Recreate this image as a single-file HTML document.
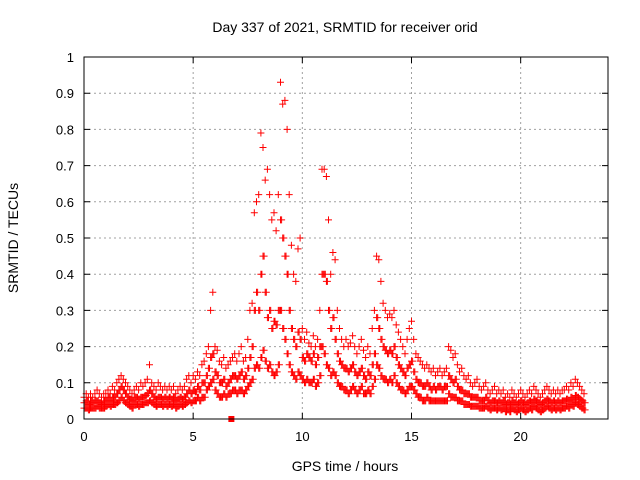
<!DOCTYPE html>
<html><head><meta charset="utf-8"><style>
body{margin:0;background:#fff}
svg{display:block;font-family:"Liberation Sans",sans-serif}
</style></head><body>
<svg id="chart" width="640" height="480" viewBox="0 0 640 480">
<rect width="640" height="480" fill="#fff"/>
<text x="345" y="32" font-size="14" text-anchor="middle">Day 337 of 2021, SRMTID for receiver orid</text>
<text x="345" y="471" font-size="14" text-anchor="middle">GPS time / hours</text>
<text transform="translate(18,238) rotate(-90)" font-size="14" text-anchor="middle">SRMTID / TECUs</text>
<g id="grid"></g><g id="axes"></g><g id="marks"></g>
<rect x="84" y="57" width="524" height="362" fill="none" stroke="#000" stroke-width="1"/>
</svg>
<script>
const xTicks=[0,5,10,15,20];
const yTicks=[0,0.1,0.2,0.3,0.4,0.5,0.6,0.7,0.8,0.9,1];
const yTickLabels=["0","0.1","0.2","0.3","0.4","0.5","0.6","0.7","0.8","0.9","1"];
const tStep=0.1;
const hiVals=[.06,.07,.06,.07,.06,.07,.08,.07,.06,.07,.07,.08,.07,.09,.08,.10,.11,.12,.11,.10,.09,.08,.07,.08,.09,.08,.10,.09,.10,.11,.15,.10,.09,.08,.10,.09,.08,.09,.08,.09,.08,.09,.07,.08,.09,.08,.09,.11,.12,.10,.12,.11,.13,.12,.15,.16,.18,.20,.30,.35,.20,.19,.16,.15,.17,.14,.15,.16,.17,.18,.16,.18,.20,.16,.17,.22,.30,.32,.57,.60,.62,.79,.75,.66,.69,.62,.55,.57,.52,.62,.93,.87,.88,.80,.62,.48,.40,.38,.47,.50,.25,.22,.24,.21,.20,.23,.20,.22,.30,.69,.69,.67,.55,.40,.46,.44,.30,.25,.22,.20,.22,.20,.21,.23,.20,.18,.20,.22,.19,.17,.20,.18,.25,.30,.45,.44,.38,.32,.30,.28,.29,.28,.30,.26,.24,.22,.20,.18,.22,.25,.27,.22,.18,.17,.16,.15,.14,.15,.14,.13,.14,.12,.13,.14,.12,.13,.14,.20,.19,.17,.18,.15,.13,.14,.12,.11,.12,.10,.09,.10,.11,.09,.08,.09,.10,.08,.07,.08,.09,.07,.08,.07,.08,.06,.07,.06,.08,.07,.06,.07,.08,.07,.06,.07,.08,.07,.09,.08,.07,.06,.07,.08,.09,.08,.07,.08,.07,.08,.07,.08,.08,.09,.08,.10,.09,.11,.10,.09,.08,.07];
const midVals=[.045,.05,.04,.05,.045,.05,.05,.045,.04,.05,.05,.06,.05,.06,.06,.07,.08,.09,.08,.07,.06,.055,.05,.06,.06,.055,.06,.06,.065,.07,.08,.07,.06,.055,.06,.06,.055,.06,.055,.06,.055,.06,.05,.055,.06,.055,.06,.07,.08,.07,.08,.075,.09,.08,.10,.10,.12,.14,.17,.18,.13,.12,.10,.10,.11,.09,.10,.11,.12,.12,.11,.12,.13,.11,.12,.14,.17,.20,.30,.35,.30,.40,.45,.35,.28,.30,.25,.27,.26,.30,.55,.50,.45,.40,.30,.25,.22,.20,.24,.22,.17,.16,.18,.17,.16,.18,.15,.17,.20,.40,.40,.38,.30,.25,.28,.22,.18,.16,.15,.14,.14,.13,.14,.15,.13,.12,.13,.14,.12,.11,.13,.12,.15,.18,.28,.25,.22,.20,.19,.18,.19,.18,.20,.17,.15,.14,.13,.12,.14,.15,.16,.13,.11,.10,.10,.09,.09,.10,.09,.08,.09,.08,.09,.09,.08,.09,.09,.12,.11,.10,.11,.09,.08,.08,.07,.07,.07,.06,.06,.06,.06,.05,.05,.05,.06,.05,.045,.05,.05,.045,.05,.045,.05,.04,.045,.04,.05,.045,.04,.045,.05,.045,.04,.045,.05,.045,.055,.05,.045,.04,.045,.05,.055,.05,.045,.05,.045,.05,.045,.05,.05,.055,.05,.06,.055,.065,.06,.055,.05,.045];
const loVals=[.03,.03,.025,.03,.03,.03,.035,.03,.03,.03,.035,.04,.035,.04,.04,.045,.05,.06,.05,.045,.04,.035,.03,.04,.04,.035,.04,.04,.045,.045,.05,.045,.04,.035,.04,.04,.035,.04,.035,.04,.035,.04,.03,.035,.04,.035,.04,.045,.05,.045,.05,.05,.06,.05,.06,.06,.08,.09,.10,.11,.08,.07,.06,.06,.07,.06,.07,.07,.08,.08,.07,.08,.08,.07,.08,.09,.10,.11,.14,.15,.14,.17,.19,.16,.14,.15,.13,.12,.13,.15,.30,.25,.22,.18,.15,.13,.12,.11,.13,.12,.11,.10,.11,.10,.10,.11,.09,.10,.12,.20,.18,.15,.14,.12,.13,.12,.10,.09,.09,.08,.08,.07,.08,.09,.08,.07,.08,.09,.07,.07,.08,.07,.09,.11,.15,.14,.12,.11,.11,.10,.11,.10,.12,.10,.09,.08,.08,.07,.08,.09,.09,.08,.07,.06,.06,.05,.05,.06,.05,.05,.05,.05,.05,.05,.05,.05,.05,.07,.06,.06,.06,.05,.05,.05,.04,.04,.04,.035,.035,.035,.035,.03,.03,.03,.035,.03,.025,.03,.03,.025,.03,.025,.03,.02,.025,.02,.03,.025,.02,.025,.03,.025,.02,.025,.03,.025,.035,.03,.025,.02,.025,.03,.035,.03,.025,.03,.025,.03,.025,.03,.03,.035,.03,.04,.035,.045,.04,.035,.03,.025];
const markerT=[6.75];
const markerV=[0];

const X0=84,X1=608,Y0=419,Y1=57,XMAX=24;
const xs=t=>X0+(t/XMAX)*(X1-X0);
const ys=v=>Y0-v*(Y0-Y1);
const NS="http://www.w3.org/2000/svg";
const grid=document.getElementById('grid'),axes=document.getElementById('axes'),marks=document.getElementById('marks');
function mk(tag,attrs,parent){const e=document.createElementNS(NS,tag);for(const k in attrs)e.setAttribute(k,attrs[k]);parent.appendChild(e);return e;}
yTicks.forEach((v,i)=>{
  const y=ys(v);
  if(v>0&&v<1){const g=mk('line',{x1:X0,x2:X1,y1:y,y2:y,stroke:'#a0a0a0','stroke-dasharray':'2,3'},grid);
  
  }
  const tk=mk('path',{d:`M${X0},${y}h6M${X1},${y}h-6`,stroke:'#000'},axes);
  
  
  const l=mk('text',{x:X0-10,y:y+5,'font-size':13,'text-anchor':'end'},axes);l.textContent=yTickLabels[i];
  
  
});
xTicks.forEach(t=>{
  const x=xs(t);
  if(t>0){const g=mk('line',{x1:x,x2:x,y1:Y0,y2:Y1,stroke:'#a0a0a0','stroke-dasharray':'2,3'},grid);
  
  }
  const tk=mk('path',{d:`M${x},${Y0}v-6M${x},${Y1}v6`,stroke:'#000'},axes);
  
  
  const l=mk('text',{x:x,y:Y0+22,'font-size':13,'text-anchor':'middle'},axes);l.textContent=String(t);
  
  
});
let d='';
function plus(t,v){const x=xs(t),y=ys(v);d+=`M${(x-3.5).toFixed(1)},${y.toFixed(1)}h7M${x.toFixed(1)},${(y-3.5).toFixed(1)}v7`;}
[loVals,midVals,hiVals].forEach(arr=>arr.forEach((v,i)=>plus(i*tStep,v)));
midVals.forEach((v,i)=>plus(i*tStep+tStep/2,v));
loVals.forEach((v,i)=>plus(i*tStep+tStep/2,v));
const p=mk('path',{d:d,stroke:'#ff0000','stroke-width':1,fill:'none'},marks);


markerT.forEach((t,i)=>{
  const r=mk('rect',{x:xs(t)-3,y:ys(markerV[i])-3,width:6,height:6,fill:'#ff0000'},marks);
  
  
});
</script>
</body></html>
